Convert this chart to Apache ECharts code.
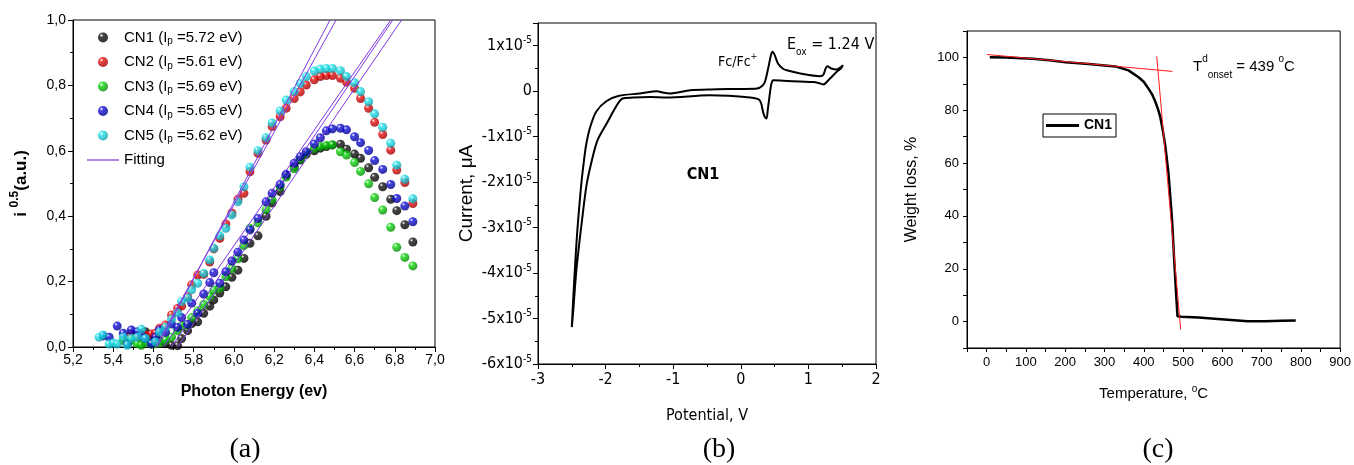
<!DOCTYPE html>
<html><head><meta charset="utf-8">
<script src="https://cdn.jsdelivr.net/npm/echarts@6/dist/echarts.min.js"></script>
<style>html,body{margin:0;padding:0;background:#fff}#c{width:1354px;height:465px}</style>
</head><body><div id="c"></div>
<script>
// ---------- Panel (a): photoelectron yield ----------
const energy = [5.33,5.35,5.38,5.40,5.42,5.45,5.47,5.49,5.52,5.54,5.56,5.59,5.61,5.63,5.66,5.69,5.72,5.74,5.77,5.79,5.82,5.85,5.88,5.90,5.93,5.96,5.99,6.02,6.05,6.08,6.12,6.16,6.19,6.23,6.26,6.30,6.33,6.36,6.40,6.43,6.46,6.49,6.53,6.56,6.60,6.63,6.67,6.70,6.74,6.78,6.81,6.85,6.89];
const cn1 = [null,null,null,null,null,null,null,null,null,null,0.047,0.035,0.030,0.020,0.010,0.005,0.004,0.026,0.050,0.072,0.077,0.103,0.125,0.144,0.165,0.184,0.213,0.235,0.271,0.317,0.340,0.400,0.440,0.475,0.525,0.551,0.572,0.589,0.600,0.608,0.613,0.618,0.620,0.605,0.590,0.577,0.548,0.519,0.490,0.452,0.417,0.374,0.321];
const cn2 = [null,null,null,null,null,null,null,0.040,0.030,0.020,0.035,0.040,0.042,0.057,0.067,0.098,0.118,0.125,0.154,0.190,0.220,0.222,0.260,0.300,0.332,0.376,0.410,0.452,0.470,0.536,0.592,0.633,0.674,0.704,0.730,0.760,0.780,0.801,0.817,0.827,0.830,0.830,0.822,0.810,0.791,0.760,0.730,0.687,0.650,0.602,0.541,0.503,0.439];
const cn3 = [null,null,null,null,null,0.020,0.015,0.020,0.010,0.005,0.015,0.008,0.010,0.012,0.020,0.030,0.050,0.065,0.067,0.090,0.110,0.130,0.154,0.174,0.180,0.215,0.240,0.270,0.310,0.363,0.380,0.420,0.450,0.490,0.520,0.545,0.575,0.592,0.607,0.613,0.616,0.618,0.597,0.587,0.564,0.537,0.499,0.457,0.419,0.366,0.305,0.274,0.248];
const cn4 = [null,0.034,0.030,null,0.064,0.042,0.010,0.052,0.047,0.035,0.026,0.010,0.030,0.052,0.045,0.070,0.060,0.090,0.069,0.134,0.103,0.162,0.197,0.227,0.195,0.230,0.263,0.290,0.327,0.358,0.393,0.444,0.470,0.497,0.528,0.562,0.582,0.597,0.621,0.640,0.661,0.667,0.669,0.664,0.643,0.625,0.601,0.570,0.543,0.497,0.454,0.431,0.383];
const cn5 = [0.030,0.037,0.009,0.012,0.009,0.030,0.005,0.026,0.030,0.054,0.026,null,0.016,0.045,0.060,0.085,0.105,0.139,0.150,0.175,0.195,0.225,0.266,0.302,0.340,0.363,0.404,0.444,0.490,0.550,0.600,0.640,0.685,0.722,0.755,0.781,0.806,0.827,0.844,0.850,0.852,0.852,0.845,0.827,0.808,0.781,0.750,0.713,0.672,0.623,0.556,0.513,0.453];
const sampleNames = ['CN1','CN2','CN3','CN4','CN5'];
const ipValues = ['5.72','5.61','5.69','5.65','5.62'];
const sampleColors = ['#151515','#ee1111','#11dd11','#1010e0','#22e4ee'];
const sampleDark = ['#000000','#a00000','#008800','#000088','#10a0b0'];
// fitting lines: [onset energy at y=0, energy where the line reaches y=1.0]
const fitStart = [5.72,5.61,5.69,5.65,5.62];
const fitEnd = [6.834,6.508,6.79,6.78,6.478];
const fitYLow = 0, fitYHigh = 1.0;

// ---------- Panel (b): cyclic voltammogram (current in units of 1e-5) ----------
const cvPotential = [-2.50,-2.48,-2.45,-2.42,-2.39,-2.36,-2.33,-2.29,-2.23,-2.14,-1.99,-1.80,-1.49,-1.24,-1.15,-1.05,-0.75,-0.45,0.00,0.24,0.32,0.36,0.41,0.45,0.47,0.50,0.55,0.62,0.68,0.88,1.17,1.22,1.25,1.28,1.34,1.42,1.51,1.48,1.42,1.32,1.22,1.15,1.07,0.63,0.48,0.45,0.43,0.40,0.38,0.35,0.33,0.28,0.14,-0.46,-1.10,-1.34,-1.60,-1.75,-1.85,-1.98,-2.12,-2.20,-2.28,-2.35,-2.43,-2.48,-2.50];
const cvCurrent = [-5.19,-4.60,-3.80,-3.10,-2.55,-2.05,-1.65,-1.20,-0.80,-0.45,-0.22,-0.10,-0.05,0.00,-0.03,-0.05,0.02,0.04,0.05,0.06,0.12,0.22,0.54,0.82,0.87,0.80,0.61,0.50,0.46,0.39,0.33,0.36,0.48,0.55,0.50,0.48,0.57,0.50,0.43,0.28,0.15,0.18,0.20,0.23,0.24,0.15,-0.05,-0.40,-0.60,-0.55,-0.46,-0.20,-0.14,-0.09,-0.14,-0.13,-0.14,-0.16,-0.35,-0.70,-1.08,-1.50,-2.05,-2.85,-3.90,-4.85,-5.19];

// ---------- Panel (c): TGA ----------
const tgaTemp = [8,50,117,160,201,260,328,361,386,400,412,422,429,436,442,449,455,463,472,478,483,486,496,540,580,622,665,707,750,787];
const tgaWeight = [100.1,100.0,99.5,98.9,98.2,97.5,96.6,95.1,92.6,90.8,88.2,85.8,83.4,80.5,77.5,72.0,66.2,56.1,38.5,22.0,9.0,2.0,1.8,1.5,1.1,0.6,0.1,0.1,0.3,0.4];
const tangentA = [[1,101.1],[473,94.7]];
const tangentB = [[433,100.4],[494,-3.0]];

const FONT = '"Liberation Sans", Arial, sans-serif';
const NARROW = '"Liberation Sans Narrow", "DejaVu Sans Condensed", "Liberation Sans", sans-serif';

function ball(c, d) {
  return new echarts.graphic.RadialGradient(0.35, 0.3, 0.7, [
    {offset: 0, color: '#ffffff'}, {offset: 0.28, color: c}, {offset: 1, color: d}]);
}
const seriesArrays = [cn1, cn2, cn3, cn4, cn5];

const series = [];
seriesArrays.forEach((arr, k) => {
  series.push({
    name: sampleNames[k], type: 'scatter', xAxisIndex: 0, yAxisIndex: 0,
    symbol: 'circle', symbolSize: 9,
    itemStyle: {color: ball(sampleColors[k], sampleDark[k])},
    data: energy.map((e, i) => [e, arr[i]]).filter(p => p[1] !== null),
    z: 2
  });
});
fitStart.forEach((s, k) => {
  series.push({
    name: 'Fitting', type: 'line', xAxisIndex: 0, yAxisIndex: 0,
    symbol: 'none', lineStyle: {color: '#8136e2', width: 1}, itemStyle: {color: '#8136e2'},
    data: [[s, fitYLow], [fitEnd[k], fitYHigh]], z: 3
  });
});
series.push({
  name: 'CV', type: 'line', xAxisIndex: 1, yAxisIndex: 1, symbol: 'none', smooth: 0.3,
  lineStyle: {color: '#000', width: 2},
  data: cvPotential.map((p, i) => [p, cvCurrent[i]])
});
series.push({
  name: 'CN1 TGA', type: 'line', xAxisIndex: 2, yAxisIndex: 2, symbol: 'none',
  lineStyle: {color: '#000', width: 2.5}, itemStyle: {color: '#000'},
  data: tgaTemp.map((t, i) => [t, tgaWeight[i]]), z: 2
});
[tangentA, tangentB].forEach(tl => series.push({
  name: 'tangent', type: 'line', xAxisIndex: 2, yAxisIndex: 2, symbol: 'none',
  lineStyle: {color: '#ff1a1a', width: 1}, data: tl, z: 3
}));

const axisBase = {
  axisLine: {show: true, onZero: false, lineStyle: {color: '#000', width: 1}},
  axisTick: {show: true, inside: false, length: 5, lineStyle: {color: '#000'}},
  minorTick: {show: true, splitNumber: 2, length: 3, lineStyle: {color: '#000'}},
  splitLine: {show: false}
};

const option = {
  animation: false,
  textStyle: {fontFamily: FONT, color: '#000'},
  grid: [
    {left: 73, top: 20, width: 362, height: 327, show: true, borderColor: '#000', borderWidth: 1},
    {left: 538, top: 23, width: 338, height: 341, show: true, borderColor: '#000', borderWidth: 1},
    {left: 967, top: 31, width: 376, height: 317, show: true, borderColor: '#000', borderWidth: 1}
  ],
  xAxis: [
    Object.assign({}, axisBase, {
      gridIndex: 0, type: 'value', min: 5.2, max: 7.0, interval: 0.2,
      axisLabel: {fontSize: 14, color: '#000', margin: 6, formatter: v => v.toFixed(1).replace('.', ',')},
      name: 'Photon Energy (ev)', nameLocation: 'middle', nameGap: 37,
      nameTextStyle: {fontSize: 16, fontWeight: 'bold', color: '#000'}
    }),
    Object.assign({}, axisBase, {
      gridIndex: 1, type: 'value', min: -3, max: 2, interval: 1,
      axisLabel: {fontSize: 16, fontFamily: NARROW, color: '#000', margin: 8},
      name: 'Potential, V', nameLocation: 'middle', nameGap: 44,
      nameTextStyle: {fontSize: 16, fontFamily: NARROW, color: '#000'}
    }),
    Object.assign({}, axisBase, {
      gridIndex: 2, type: 'value', min: -50, max: 900, interval: 50,
      minorTick: {show: false},
      axisTick: {show: true, length: 4, interval: 0, lineStyle: {color: '#000'}},
      axisLabel: {fontSize: 13, color: '#000', margin: 8, interval: 0, formatter: v => (v % 100 === 0 && v >= 0) ? String(v) : ''},
      name: '{a|Temperature, }{s|o}{a|C}', nameLocation: 'middle', nameGap: 36,
      nameTextStyle: {rich: {a: {fontSize: 15, lineHeight: 20, color: '#000'}, s: {fontSize: 10, lineHeight: 10, verticalAlign: 'top', color: '#000'}}}
    })
  ],
  yAxis: [
    Object.assign({}, axisBase, {
      gridIndex: 0, type: 'value', min: 0, max: 1, interval: 0.2,
      axisLabel: {fontSize: 14, color: '#000', margin: 7, formatter: v => v.toFixed(1).replace('.', ',')},
      name: '{b|i }{s|0.5}{b|(a.u.)}', nameLocation: 'middle', nameGap: 40,
      nameTextStyle: {rich: {b: {fontSize: 17, fontWeight: 'bold', lineHeight: 24, color: '#000'}, s: {fontSize: 12, fontWeight: 'bold', lineHeight: 12, verticalAlign: 'top', color: '#000'}}}
    }),
    Object.assign({}, axisBase, {
      gridIndex: 1, type: 'value', min: -6, max: 1.5, interval: 1,
      axisLabel: {showMaxLabel: false, margin: 6, formatter: v => v === 0 ? '{n|0}' : '{n|' + v + 'x10}{s|-5}',
        rich: {n: {fontSize: 16, fontFamily: NARROW, lineHeight: 20, color: '#000'}, s: {fontSize: 10, fontFamily: NARROW, lineHeight: 10, verticalAlign: 'top', color: '#000'}}},
      name: 'Current, \u03bcA', nameLocation: 'middle', nameGap: 62,
      nameTextStyle: {fontSize: 19, color: '#000'}
    }),
    Object.assign({}, axisBase, {
      gridIndex: 2, type: 'value', min: -10, max: 110, interval: 10,
      minorTick: {show: false},
      axisTick: {show: true, length: 4, interval: 0, lineStyle: {color: '#000'}},
      axisLabel: {fontSize: 13, color: '#000', margin: 8, interval: 0, formatter: v => (v % 20 === 0 && v >= 0 && v <= 100) ? String(v) : ''},
      name: 'Weight loss, %', nameLocation: 'middle', nameGap: 47,
      nameTextStyle: {fontSize: 16, color: '#000'}
    })
  ],
  legend: [
    {
      orient: 'vertical', left: 87, top: 30, padding: 0, itemWidth: 32, itemHeight: 10, itemGap: 8,
      data: sampleNames.map(n => ({name: n, icon: 'circle'})).concat([{name: 'Fitting', icon: 'path://M0,0L32,0L32,1.2L0,1.2Z'}]),
      formatter: n => {
        const k = sampleNames.indexOf(n);
        return k < 0 ? '{t|' + n + '}' : '{t|' + n + ' (I}{sub|p}{t| =' + ipValues[k] + ' eV)}';
      },
      textStyle: {color: '#000', rich: {t: {fontSize: 15, lineHeight: 18, color: '#000'}, sub: {fontSize: 10, lineHeight: 10, verticalAlign: 'bottom', color: '#000'}}}
    },
    {
      orient: 'vertical', left: 1043, top: 114, padding: [3, 4, 3, 3], itemWidth: 33, itemHeight: 3,
      borderColor: '#000', borderWidth: 1,
      data: [{name: 'CN1 TGA', icon: 'rect', itemStyle: {color: '#000'}}],
      formatter: () => 'CN1',
      textStyle: {fontSize: 14, fontWeight: 'bold', color: '#000', lineHeight: 17}
    }
  ],
  graphic: [
    {type: 'text', x: 245, y: 450, style: {text: '(a)', font: '28px "Liberation Serif", "Times New Roman", serif', fill: '#000', textAlign: 'center', textVerticalAlign: 'middle'}},
    {type: 'text', x: 719, y: 450, style: {text: '(b)', font: '28px "Liberation Serif", "Times New Roman", serif', fill: '#000', textAlign: 'center', textVerticalAlign: 'middle'}},
    {type: 'text', x: 1158, y: 450, style: {text: '(c)', font: '28px "Liberation Serif", "Times New Roman", serif', fill: '#000', textAlign: 'center', textVerticalAlign: 'middle'}},
    {type: 'text', x: 787, y: 33, style: {text: '{a|E}{s|ox}{a| = 1.24 V}', fill: '#000',
      rich: {a: {fontSize: 16, fontFamily: NARROW, lineHeight: 24, fill: '#000'}, s: {fontSize: 10, fontFamily: NARROW, lineHeight: 10, verticalAlign: 'bottom', fill: '#000'}}}},
    {type: 'text', x: 718, y: 52, style: {text: '{a|Fc/Fc}{s|+}', fill: '#000',
      rich: {a: {fontSize: 14, fontFamily: NARROW, lineHeight: 20, fill: '#000'}, s: {fontSize: 9, fontFamily: NARROW, lineHeight: 9, verticalAlign: 'top', fill: '#000'}}}},
    {type: 'text', x: 703, y: 175, style: {text: 'CN1', font: 'bold 16px ' + NARROW, fill: '#000', textAlign: 'center', textVerticalAlign: 'middle'}},
    {type: 'text', x: 1193, y: 54, style: {text: '{a|T}{s|d}{b|onset}{a| = 439 }{s|o}{a|C}', fill: '#000',
      rich: {a: {fontSize: 15, lineHeight: 26, fill: '#000'}, s: {fontSize: 10, lineHeight: 10, verticalAlign: 'top', fill: '#000'}, b: {fontSize: 10, lineHeight: 10, verticalAlign: 'bottom', fill: '#000'}}}}
  ],
  series: series
};
const chart = echarts.init(document.getElementById('c'), null, {renderer: 'canvas'});
chart.setOption(option);
</script>
</body></html>
